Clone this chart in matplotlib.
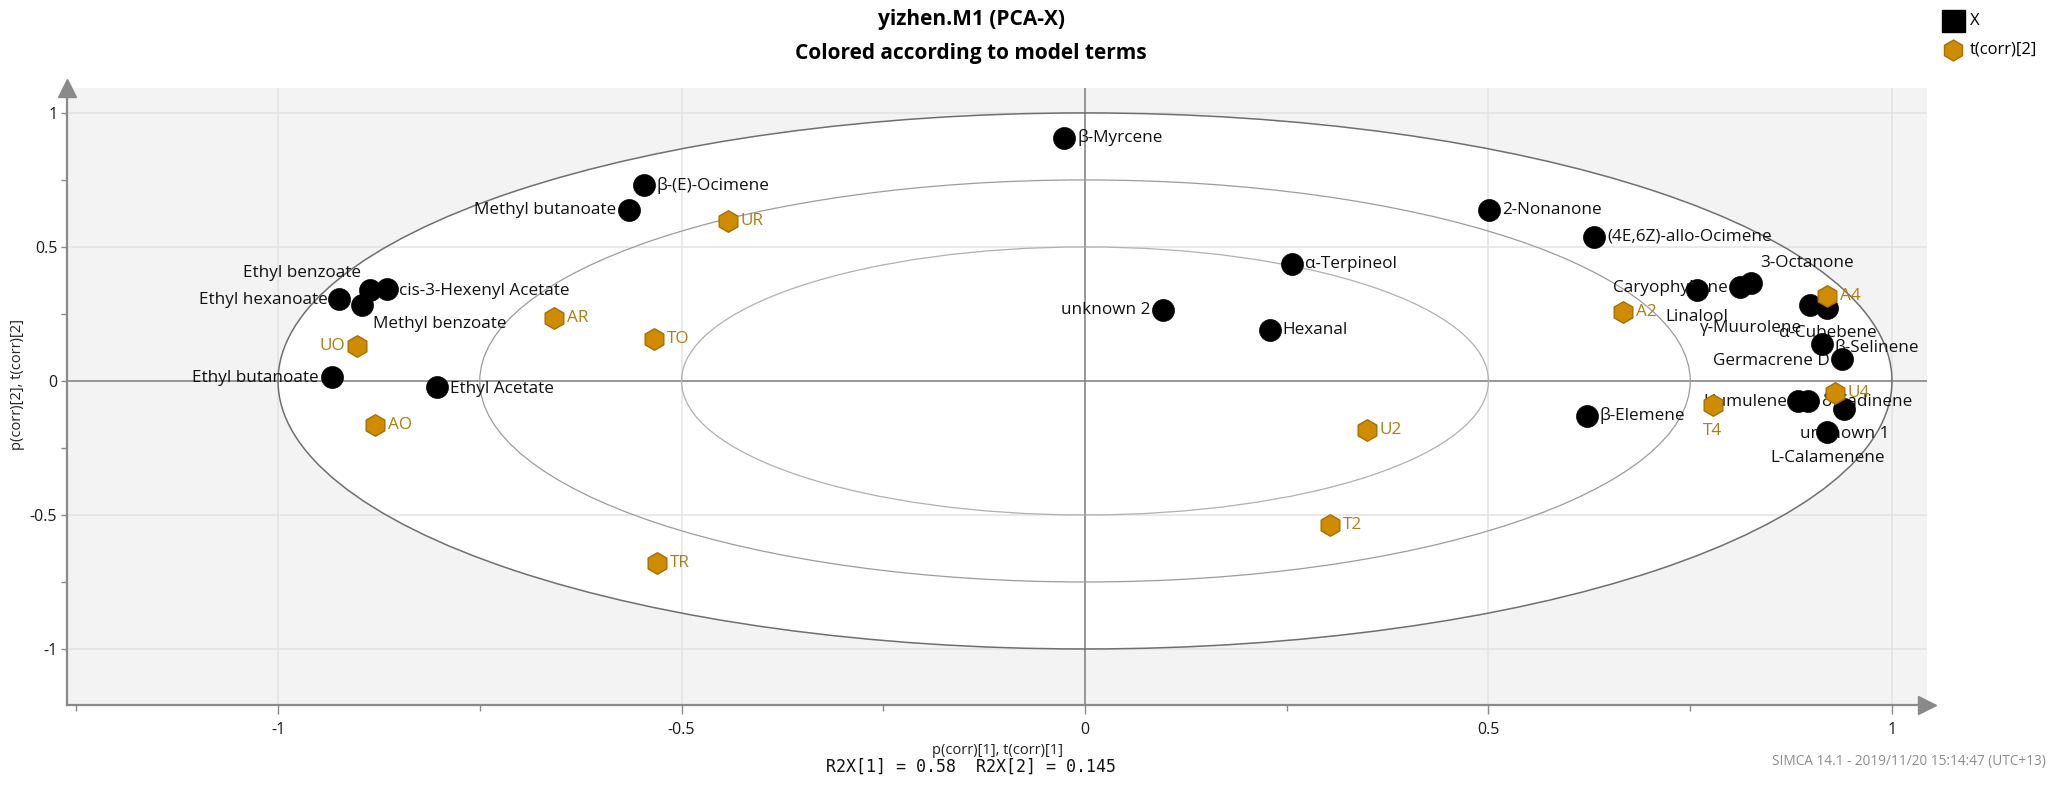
import matplotlib
matplotlib.use("Agg")
import matplotlib.pyplot as plt
from matplotlib.patches import Ellipse
from matplotlib.ticker import MultipleLocator

plt.rcParams["font.family"] = ["Open Sans", "DejaVu Sans"]

# ---- data -------------------------------------------------------------
# X-variable loadings: p(corr)[1], p(corr)[2]
loading_names = [
    "β-Myrcene", "β-(E)-Ocimene", "Methyl butanoate", "2-Nonanone",
    "(4E,6Z)-allo-Ocimene", "α-Terpineol", "unknown 2", "Hexanal",
    "3-Octanone", "Caryophyllene", "Linalool", "γ-Muurolene", "α-Cubebene",
    "β-Selinene", "Germacrene D", "Humulene", "δ-Cadinene", "unknown 1",
    "L-Calamenene", "β-Elemene", "Ethyl benzoate", "Ethyl hexanoate",
    "cis-3-Hexenyl Acetate", "Methyl benzoate", "Ethyl butanoate",
    "Ethyl Acetate",
]
loading_x = [
    -0.026, -0.547, -0.565, 0.501,
    0.631, 0.256, 0.097, 0.229,
    0.825, 0.812, 0.758, 0.898, 0.920,
    0.913, 0.938, 0.884, 0.896, 0.941,
    0.920, 0.622, -0.886, -0.924,
    -0.865, -0.896, -0.933,
    -0.803,
]
loading_y = [
    0.908, 0.730, 0.638, 0.638,
    0.538, 0.435, 0.265, 0.190,
    0.367, 0.350, 0.340, 0.284, 0.271,
    0.137, 0.081, -0.073, -0.073, -0.106,
    -0.191, -0.129, 0.340, 0.305,
    0.342, 0.284, 0.014,
    -0.021,
]

# Observation scores: t(corr)[1], t(corr)[2]
score_names = ["A4", "A2", "U4", "T4", "UO", "AR", "AO", "UR", "TO", "U2", "T2", "TR"]
score_x = [0.920, 0.667, 0.929, 0.778, -0.902, -0.658, -0.880, -0.443, -0.534, 0.349, 0.304, -0.530]
score_y = [0.317, 0.259, -0.044, -0.090, 0.132, 0.234, -0.164, 0.597, 0.157, -0.183, -0.537, -0.680]

tick_values = [-1, -0.5, 0, 0.5, 1]
tick_labels = ["-1", "-0.5", "0", "0.5", "1"]
ellipse_radii = [1.0, 0.75, 0.5]
r2x = [0.58, 0.145]

# ---- label placement (pixel offsets: dx, dy downwards, alignment) -------
DEFAULT_PLACE = (13, 0, "left")
label_place = {
    "Methyl butanoate": (-13, 0, "right"),
    "unknown 2": (-13, 0, "right"),
    "3-Octanone": (9, -20, "left"),
    "Caryophyllene": (-13, 1, "right"),
    "Linalool": (0, 27, "center"),
    "γ-Muurolene": (-8, 23, "right"),
    "α-Cubebene": (0, 25, "center"),
    "β-Selinene": (13, 3, "left"),
    "Germacrene D": (-12, 2, "right"),
    "Humulene": (-11, 1, "right"),
    "δ-Cadinene": (13, 1, "left"),
    "unknown 1": (0, 25, "center"),
    "L-Calamenene": (0, 26, "center"),
    "Ethyl benzoate": (-9, -17, "right"),
    "Ethyl hexanoate": (-12, 1, "right"),
    "cis-3-Hexenyl Acetate": (12, 2, "left"),
    "Methyl benzoate": (11, 19, "left"),
    "Ethyl butanoate": (-13, 1, "right"),
    "Ethyl Acetate": (13, 2, "left"),
    "T4": (0, 26, "center"),
    "UO": (-12, 0, "right"),
}

# ---- colours ----------------------------------------------------------
BG = "#f3f3f3"
GRID = "#e3e3e3"
AXIS = "#8a8a8a"
HEX_FACE = "#d08c00"
HEX_EDGE = "#a66f00"
HEX_TEXT = "#b07d12"
LABEL_SIZE = 12.3

W, H = 2049, 787
fig = plt.figure(figsize=(W / 100, H / 100), dpi=100)
fig.patch.set_facecolor("white")

ax_left, ax_right, ax_top, ax_bottom = 67, 1927, 88, 705
ax = fig.add_axes([ax_left / W, 1 - ax_bottom / H,
                   (ax_right - ax_left) / W, (ax_bottom - ax_top) / H])
ax.set_facecolor(BG)
ax.set_xlim(-1.2615, 1.0434)
ax.set_ylim(-1.209, 1.093)

# white interior of the unit ellipse
ax.add_patch(Ellipse((0, 0), 2, 2, facecolor="white", edgecolor="none", zorder=0.5))

# grid
for v in tick_values:
    if v != 0:
        ax.axvline(v, color=GRID, lw=1.1, zorder=1)
        ax.axhline(v, color=GRID, lw=1.1, zorder=1)
ax.axvline(0, color="#858585", lw=1.2, zorder=1.5)
ax.axhline(0, color="#858585", lw=1.2, zorder=1.5)

# confidence ellipses
ell_styles = [("#6f6f6f", 1.1), ("#9c9c9c", 0.9), ("#b0b0b0", 0.9)]
for r, (c, lw) in zip(ellipse_radii, ell_styles):
    ax.add_patch(Ellipse((0, 0), 2 * r, 2 * r, facecolor="none",
                         edgecolor=c, lw=lw, zorder=2))

# labels (under the markers)
for name, x, y in zip(loading_names, loading_x, loading_y):
    dx, dy, ha = label_place.get(name, DEFAULT_PLACE)
    ax.annotate(name, (x, y), xytext=(dx, -dy), textcoords="offset pixels",
                ha=ha, va="center", fontsize=LABEL_SIZE, color="#111111", zorder=3)
for name, x, y in zip(score_names, score_x, score_y):
    dx, dy, ha = label_place.get(name, DEFAULT_PLACE)
    ax.annotate(name, (x, y), xytext=(dx, -dy), textcoords="offset pixels",
                ha=ha, va="center", fontsize=LABEL_SIZE, color=HEX_TEXT, zorder=3)

# markers
ax.scatter(loading_x, loading_y, s=250, c="black", edgecolors="black",
           linewidths=0.5, zorder=5)
ax.scatter(score_x, score_y, s=240, marker="h", c=HEX_FACE,
           edgecolors=HEX_EDGE, linewidths=1.0, zorder=6)

# axes styling
for side in ("top", "right"):
    ax.spines[side].set_visible(False)
for side in ("left", "bottom"):
    ax.spines[side].set_color(AXIS)
    ax.spines[side].set_linewidth(1.6)
ax.plot(1, 0, marker=">", ms=13, color=AXIS, transform=ax.transAxes,
        clip_on=False, zorder=7)
ax.plot(0, 1, marker="^", ms=13, color=AXIS, transform=ax.transAxes,
        clip_on=False, zorder=7)

ax.set_xticks(tick_values, tick_labels)
ax.set_yticks(tick_values, tick_labels)
ax.xaxis.set_minor_locator(MultipleLocator(0.25))
ax.yaxis.set_minor_locator(MultipleLocator(0.25))
ax.tick_params(which="major", width=1, color=AXIS,
               labelsize=11.5, labelcolor="#1a1a1a")
ax.tick_params(axis="x", which="major", length=6.5, pad=6)
ax.tick_params(axis="y", which="major", length=4, pad=3)
ax.tick_params(which="minor", length=4, width=1, color=AXIS)

# titles and annotations
fig.text(971 / W, 1 - 19 / H, "yizhen.M1 (PCA-X)", ha="center", va="center",
         fontsize=15, fontweight="bold")
fig.text(971 / W, 1 - 53 / H, "Colored according to model terms", ha="center",
         va="center", fontsize=15, fontweight="bold")

fig.text(997 / W, 1 - 750 / H, "p(corr)[1], t(corr)[1]", ha="center", va="center",
         fontsize=10.5, color="#222222")
fig.text(971 / W, 1 - 767 / H, f"R2X[1] = {r2x[0]:g}  R2X[2] = {r2x[1]:g}",
         ha="center", va="center", fontsize=12, family="DejaVu Sans Mono",
         color="#111111")
fig.text(18 / W, 1 - 385 / H, "p(corr)[2], t(corr)[2]", ha="center", va="center",
         rotation=90, fontsize=10.5, color="#222222")
fig.text(2046 / W, 1 - 761 / H, "SIMCA 14.1 - 2019/11/20 15:14:47 (UTC+13)",
         ha="right", va="center", fontsize=9.8, color="#8c8c8c")

# legend
fig.patches.append(plt.Rectangle((1942 / W, 1 - 32 / H), 23 / W, 22 / H,
                                 transform=fig.transFigure, facecolor="black",
                                 edgecolor="black"))
fig.text(1970 / W, 1 - 21 / H, "X", ha="left", va="center", fontsize=12)
fig.add_artist(plt.Line2D([1953 / W], [1 - 50 / H], marker="h", ms=15,
                          color=HEX_FACE, markeredgecolor=HEX_EDGE,
                          transform=fig.transFigure))
fig.text(1970 / W, 1 - 50 / H, "t(corr)[2]", ha="left", va="center", fontsize=12)

fig.savefig("out.png", dpi=100)
